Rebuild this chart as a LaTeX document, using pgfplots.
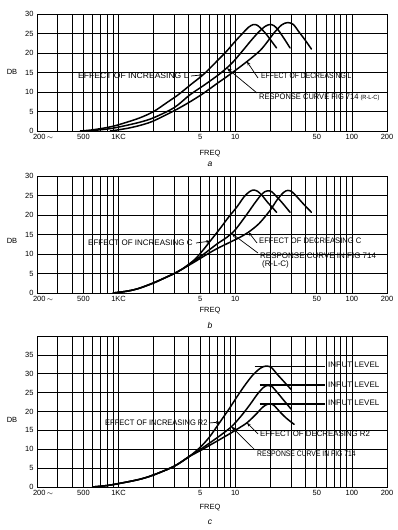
\documentclass[border=0pt]{standalone}
\usepackage{fontspec}
\setmainfont{Liberation Sans}
\usepackage{graphicx}
\usepackage{pgfplots}
\pgfplotsset{compat=1.18}
\usetikzlibrary{arrows.meta}

\newcommand{\lab}[2]{\scalebox{#1}[1]{\fontsize{8}{9}\selectfont #2}}

\pgfplotsset{
  myaxis/.style={
    scale only axis, width=350pt, anchor=south west,
    xmin=200, xmax=200000, ymin=0,
    xtick={200,500,1000,5000,10000,50000,100000,200000},
    xticklabels={{\makebox[0pt][l]{\hspace*{-4pt}200\,$\sim$}},500,1KC,5,10,50,100,200},
    extra x ticks={300,400,600,700,800,900,2000,3000,4000,6000,7000,8000,9000,20000,30000,40000,60000,70000,80000,90000},
    extra x tick labels={,,,,,,,,,,,,,,,,,,,},
    extra x tick style={grid=major},
    xmajorgrids, ymajorgrids,
    major tick length=0pt, minor tick length=0pt,
    grid style={black, line width=0.6pt},
    axis line style={black, line width=0.9pt},
    tick label style={font=\fontsize{7.5}{9}\selectfont},
    clip=false,
  },
  crv/.style={black, line width=1.5pt, smooth, mark=none, line cap=round},
}

\begin{document}
\begin{tikzpicture}[x=1pt,y=1pt]
\useasboundingbox (0,0) rectangle (397,530);

% ---------------- panel a ----------------
\begin{semilogxaxis}[myaxis, at={(37pt,399pt)}, height=117pt, ymax=30, ytick={0,5,...,30}, /pgf/number format/assume math mode=true]
\addplot[crv] coordinates {(470,0) (600,0.3) (800,0.9) (1000,1.6) (1500,3.3) (2000,5) (2600,7.3) (3250,9.3) (4200,12) (5300,14.4) (6700,17.4) (8400,20.4) (10000,23) (11700,25.2) (13000,26.6) (14300,27.3) (15500,27.1) (17000,26) (18600,24.7) (20500,23) (22600,21.3)};
\addplot[crv] coordinates {(550,0) (800,0.5) (1000,1) (1500,2.2) (2000,3.4) (3000,6) (4100,9.3) (5500,11.9) (7400,14.7) (9300,17.3) (11300,20.2) (13500,23) (15800,25.3) (18000,26.8) (19800,27.3) (21500,27) (23500,25.8) (26500,23.5) (29500,21.3)};
\addplot[crv] coordinates {(850,0) (1200,0.7) (1600,1.6) (2000,2.6) (3000,5.2) (4000,7.3) (5300,9.6) (7000,12.2) (9000,14.5) (12600,17.8) (16300,20.6) (19000,23) (21300,25) (25000,27.2) (28200,27.8) (31500,27.3) (35000,25.5) (40000,23.2) (45000,21)};
\coordinate (a1) at (axis cs:5300,14.4);
\coordinate (a2) at (axis cs:12600,17.8);
\coordinate (a3) at (axis cs:8500,16.1);
\end{semilogxaxis}

% ---------------- panel b ----------------
\begin{semilogxaxis}[myaxis, at={(37pt,237pt)}, height=117pt, ymax=30, ytick={0,5,...,30}, /pgf/number format/assume math mode=true]
\addplot[crv] coordinates {(900,0) (1200,0.5) (1500,1.2) (2000,2.6) (2500,3.9) (3000,5.0) (3500,6.1) (4500,8.6) (5300,11) (6100,13.3) (7400,16.5) (8800,19.5) (10300,22) (12000,24.8) (13300,26) (14300,26.4) (15500,26.1) (17000,25) (19000,23.2) (21000,21.8) (22600,20.7)};
\addplot[crv] coordinates {(900,0) (1200,0.5) (1500,1.2) (2000,2.6) (2500,3.9) (3000,5.0) (3500,6.1) (4500,8.3) (5500,10.2) (7000,12.6) (8500,14.3) (10000,16.2) (12600,20.2) (14500,22.8) (16500,25) (18000,26) (19000,26.2) (20500,26) (22500,24.8) (25500,23) (29500,20.7)};
\addplot[crv] coordinates {(900,0) (1200,0.5) (1500,1.2) (2000,2.6) (2500,3.9) (3000,5.0) (3500,6.1) (4500,8.0) (5500,9.6) (7000,11.4) (9000,13) (11000,14.3) (13000,15.6) (16000,17.8) (19800,21.1) (23000,24) (26000,25.8) (28200,26.3) (30500,26) (33500,24.8) (38500,22.8) (45000,20.7)};
\coordinate (b1) at (axis cs:6100,13.3);
\coordinate (b2) at (axis cs:13000,15.6);
\coordinate (b3) at (axis cs:9300,15.3);
\end{semilogxaxis}

% ---------------- panel c ----------------
\begin{semilogxaxis}[myaxis, at={(37pt,43pt)}, height=151pt, ymax=40, ytick={0,5,...,35}, /pgf/number format/assume math mode=true]
\addplot[crv] coordinates {(600,0) (800,0.4) (1000,0.9) (1500,2) (2000,3.2) (3000,5.5) (4000,8.0) (5000,10.5) (6000,13.2) (7400,17.2) (9000,21) (10300,23.8) (12000,26.8) (14000,29.5) (16000,31.2) (17500,31.9) (19000,32) (20500,31.6) (23000,29.8) (26000,28) (30200,25.8)};
\addplot[crv] coordinates {(600,0) (800,0.4) (1000,0.9) (1500,2) (2000,3.2) (3000,5.5) (4000,8.0) (5000,9.9) (6000,11.6) (7400,13.6) (9300,16) (11300,18.9) (13500,22) (15500,24.6) (17500,26.4) (19000,26.9) (20500,26.7) (23000,25) (26000,23) (30200,20.6)};
\addplot[crv] coordinates {(600,0) (800,0.4) (1000,0.9) (1500,2) (2000,3.2) (3000,5.5) (4000,8.0) (5000,9.6) (6000,11) (7400,12.6) (9300,14.4) (11000,15.8) (12600,17) (15000,19.2) (17000,21) (18500,21.8) (20000,22) (21500,21.6) (24000,20) (27500,18.2) (32000,16.6)};
\addplot[black, line width=1.2pt, mark=none] coordinates {(14700,32) (59000,32)};
\addplot[black, line width=1.2pt, mark=none] coordinates {(16200,27) (59000,27)};
\addplot[black, line width=1.2pt, mark=none] coordinates {(16200,22) (59000,22)};
\coordinate (c1) at (axis cs:7400,17.2);
\coordinate (c2) at (axis cs:12600,17);
\coordinate (c3) at (axis cs:9300,16);
\end{semilogxaxis}

% ---------------- labels ----------------
\tikzset{lbl/.style={inner sep=0pt, anchor=west}, arr/.style={line width=0.7pt, -{Stealth[length=4pt,width=3pt]}},
  rarr/.style={line width=0.7pt, -{Stealth[length=5pt,width=4pt]}}}
\begin{scope}[font=\fontsize{7.5}{9}\selectfont]
\node at (12,458) {DB};
\node at (12,289) {DB};
\node at (12,110) {DB};
\node at (210,376) {FREQ};
\node at (210,219) {FREQ};
\node at (210,22) {FREQ};
\node[font=\fontsize{8.5}{10}\selectfont\itshape] at (210,366) {a};
\node[font=\fontsize{8.5}{10}\selectfont\itshape] at (210,205) {b};
\node[font=\fontsize{8.5}{10}\selectfont\itshape] at (210,8) {c};
\end{scope}

% panel a annotations
\node[lbl] at (78,454) {\lab{1.07}{EFFECT OF INCREASING L}};
\draw[arr] (191,454) -- (a1);
\node[lbl] at (261,454) {\lab{0.85}{EFFECT OF DECREASING L}};
\draw[arr] (258,452) -- (a2);
\node[lbl] at (259,433) {\lab{0.94}{RESPONSE CURVE FIG 714 {\fontsize{6}{7}\selectfont(R-L-C)}}};
\draw[rarr] (257,437) -- (a3);

% panel b annotations
\node[lbl] at (88,287) {\lab{1.0}{EFFECT OF INCREASING C}};
\draw[arr] (196,287) -- (b1);
\node[lbl] at (259,289) {\lab{0.95}{EFFECT OF DECREASING C}};
\draw[arr] (257,287) -- (b2);
\node[lbl] at (260,274) {\lab{1.0}{RESPONSE CURVE IN FIG 714}};
\node[lbl] at (262,265.5) {\lab{1.0}{(R-L-C)}};
\draw[rarr] (258,277) -- (b3);

% panel c annotations
\node[lbl] at (105,107) {\lab{0.94}{EFFECT OF INCREASING R2}};
\draw[arr] (209,107) -- (c1);
\node[lbl] at (260,96.7) {\lab{0.98}{EFFECT OF DECREASING R2}};
\draw[arr] (258,96) -- (c2);
\node[lbl] at (257,76.7) {\lab{0.85}{RESPONSE CURVE IN FIG 714}};
\draw[rarr] (255,80) -- (c3);
\node[lbl] at (328,165) {\lab{1.0}{INPUT LEVEL}};
\node[lbl] at (328,145.7) {\lab{1.0}{INPUT LEVEL}};
\node[lbl] at (328,127.7) {\lab{1.0}{INPUT LEVEL}};
\end{tikzpicture}
\end{document}
